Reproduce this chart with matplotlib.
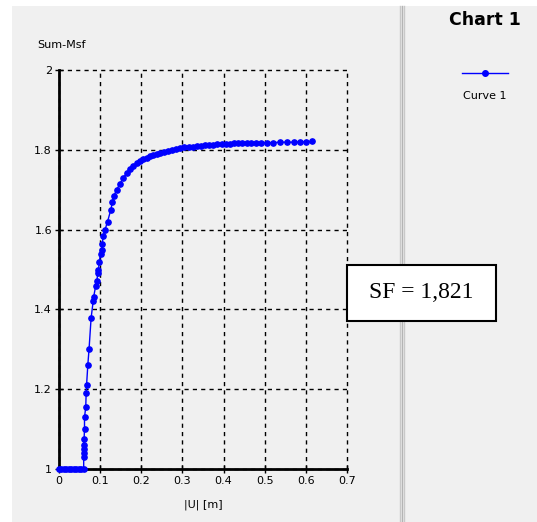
import numpy as np
from matplotlib import pyplot as plt
from matplotlib.patches import Rectangle
from matplotlib.lines import Line2D

# displacement |U| [m] and Sum-Msf
u = [0.0, 0.004, 0.012, 0.018, 0.024, 0.030, 0.036, 0.042, 0.048, 0.054, 0.060,
     0.060, 0.060, 0.060, 0.060, 0.061, 0.062, 0.062, 0.065, 0.066, 0.067, 0.070, 0.073,
     0.078, 0.083, 0.084, 0.089, 0.092, 0.094, 0.096, 0.098, 0.101, 0.104, 0.105, 0.108,
     0.112, 0.118, 0.126, 0.130, 0.134, 0.140, 0.148, 0.156, 0.165, 0.172, 0.181, 0.189,
     0.197, 0.205, 0.213, 0.221, 0.229, 0.237, 0.245, 0.255, 0.265, 0.275, 0.285, 0.295,
     0.305, 0.315, 0.325, 0.335, 0.345, 0.355, 0.365, 0.375, 0.385, 0.395, 0.405, 0.415,
     0.425, 0.435, 0.445, 0.456, 0.466, 0.478, 0.490, 0.505, 0.520, 0.537, 0.553, 0.570,
     0.585, 0.600, 0.614]
msf = [1.0, 1.0, 1.0, 1.0, 1.0, 1.0, 1.0, 1.0, 1.0, 1.0, 1.0,
       1.03, 1.04, 1.05, 1.06, 1.075, 1.10, 1.13, 1.155, 1.19, 1.21, 1.26, 1.30,
       1.378, 1.42, 1.43, 1.458, 1.47, 1.49, 1.50, 1.52, 1.54, 1.55, 1.565, 1.585,
       1.60, 1.62, 1.65, 1.67, 1.685, 1.70, 1.714, 1.73, 1.742, 1.752, 1.760, 1.766,
       1.771, 1.776, 1.780, 1.784, 1.787, 1.790, 1.792, 1.795, 1.798, 1.800, 1.802, 1.804,
       1.806, 1.807, 1.808, 1.809, 1.810, 1.811, 1.812, 1.813, 1.814, 1.814, 1.815, 1.815,
       1.816, 1.816, 1.816, 1.817, 1.817, 1.817, 1.818, 1.818, 1.818, 1.819, 1.819, 1.819,
       1.820, 1.820, 1.821]
xticks = [0, 0.1, 0.2, 0.3, 0.4, 0.5, 0.6, 0.7]
yticks = [1, 1.2, 1.4, 1.6, 1.8, 2]
sf_text = "SF = 1,821"

fig = plt.figure(figsize=(5.37, 5.22), dpi=100)
fig.patch.set_facecolor("white")
W, H = 537, 522
fig.add_artist(Rectangle((12 / W, 0), 1, 1 - 6 / H, transform=fig.transFigure,
                         facecolor="#f0f0f0", edgecolor="none", zorder=0))
for xp, c in [(400, "#c8c8c8"), (402, "#b4b4b4"), (404, "#c8c8c8")]:
    fig.add_artist(Line2D([xp / W, xp / W], [0, 1 - 6 / H], transform=fig.transFigure,
                          color=c, lw=1, zorder=1))

ax = fig.add_axes([59 / W, 1 - 469 / H, 288 / W, 399 / H])
ax.set_facecolor("none")
ax.plot(u, msf, color="#0000ff", lw=1, marker="o", ms=3.8, zorder=3, clip_on=False)
ax.set_xlim(0, 0.7)
ax.set_ylim(1, 2)
ax.set_xticks(xticks)
ax.set_yticks(yticks)
ax.set_xticklabels([f"{v:g}" for v in xticks])
ax.set_yticklabels([f"{v:g}" for v in yticks])
ax.grid(True, color="black", ls=(0, (3, 3)), lw=1)
for gl in ax.get_xgridlines() + ax.get_ygridlines():
    gl.set_clip_on(False)
ax.spines["top"].set_visible(False)
ax.spines["right"].set_visible(False)
ax.spines["left"].set_linewidth(2)
ax.spines["bottom"].set_linewidth(2)
ax.tick_params(direction="inout", length=6, width=1, labelsize=8, pad=2, colors="black")
ax.set_xlabel("|U| [m]", fontsize=8, labelpad=10)
fig.text(37 / W, 1 - 45 / H, "Sum-Msf", fontsize=8, va="center", ha="left")

fig.text(485 / W, 1 - 20 / H, "Chart 1", fontsize=12.5, fontweight="bold",
         ha="center", va="center")
fig.add_artist(Line2D([462 / W, 508 / W], [1 - 73 / H, 1 - 73 / H], transform=fig.transFigure,
                      color="#0000ff", lw=1))
fig.add_artist(Line2D([485 / W], [1 - 73 / H], transform=fig.transFigure,
                      color="#0000ff", marker="o", ms=4))
fig.text(485 / W, 1 - 96 / H, "Curve 1", fontsize=8, ha="center", va="center")

fig.add_artist(Rectangle((347 / W, 1 - 321 / H), 149 / W, 56 / H, transform=fig.transFigure,
                         facecolor="white", edgecolor="black", lw=1.5, zorder=5))
fig.text(421 / W, 1 - 293 / H, sf_text, fontsize=17, family="Liberation Serif",
         ha="center", va="center", zorder=6)

fig.savefig("out.png", dpi=100)
